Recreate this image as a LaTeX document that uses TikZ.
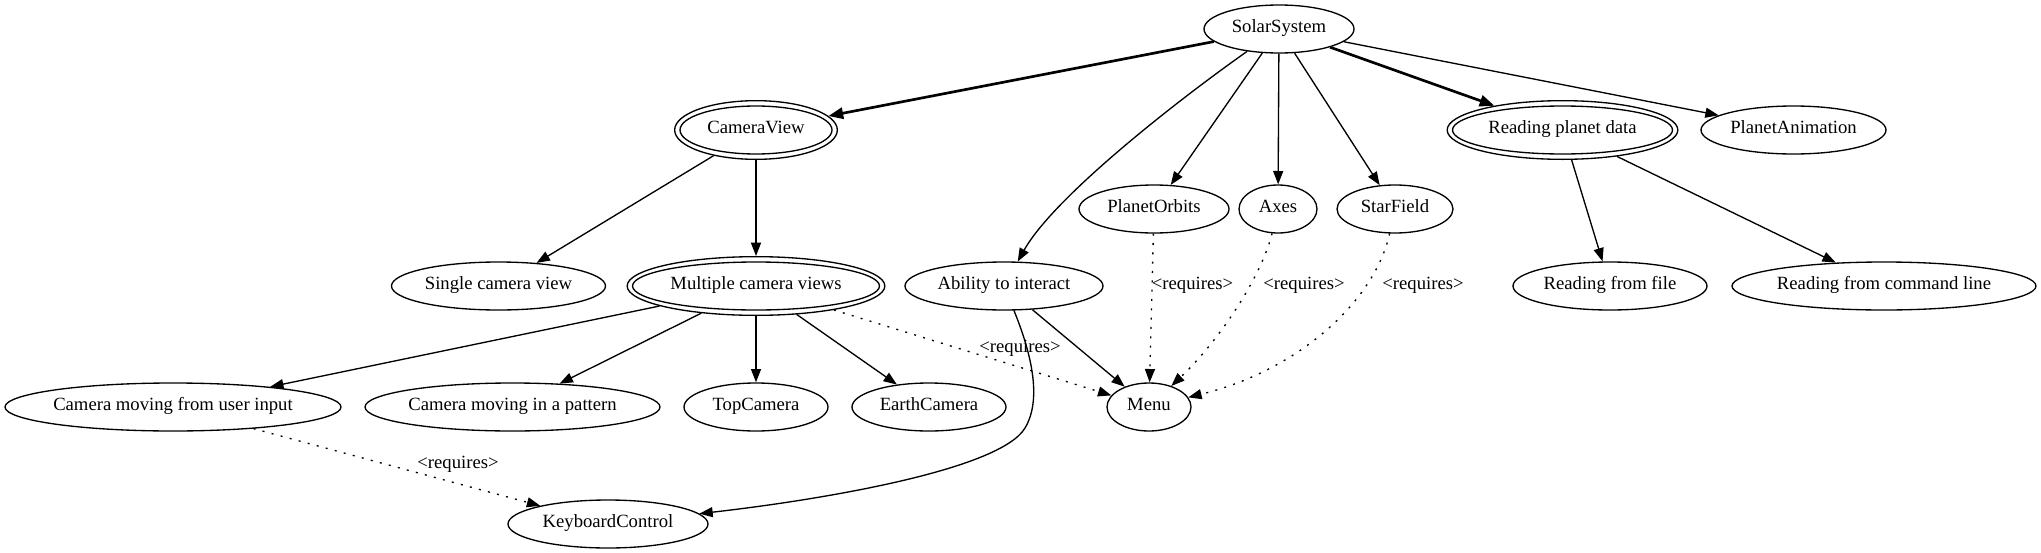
\documentclass[tikz,border=0pt]{standalone}
\usepackage{fontspec}
\setmainfont{Liberation Serif}
\usetikzlibrary{arrows.meta,shapes.geometric}
\newcommand\zw[1]{\makebox[0pt]{#1}}
\begin{document}
\begin{tikzpicture}[x=0.75pt,y=-0.75pt,
  nd/.style={draw, ellipse, line width=1pt, minimum height=36pt, inner sep=0pt,
             text height=9.5pt, text depth=4pt, font=\fontsize{14pt}{16pt}\selectfont},
  dbl/.style={nd, minimum height=44pt},
  ring/.style={line width=1pt},
  lbl/.style={inner sep=0pt, text height=9.5pt, text depth=4pt, font=\fontsize{14pt}{16pt}\selectfont},
  arr/.style={line width=1pt, -{Triangle[length=10pt,width=7.5pt]}},
  boldarr/.style={line width=2pt, -{Triangle[length=11pt,width=8.5pt]}},
  req/.style={arr, dash pattern=on 1.5pt off 5.5pt},
]
\useasboundingbox (0,0) rectangle (2041,553);

% nodes
\node[nd, minimum width=112.5pt] (solar) at (1279,29) {\zw{SolarSystem}};
\node[dbl, minimum width=122pt] (cv) at (756,130) {\zw{CameraView}};
\draw[ring] (cv.center) ellipse [x radius=57pt, y radius=18pt];
\node[dbl, minimum width=173pt] (rpd) at (1562.5,130) {\zw{Reading planet data}};
\draw[ring] (rpd.center) ellipse [x radius=82.5pt, y radius=18pt];
\node[nd, minimum width=138.75pt] (pa) at (1793.5,130) {\zw{PlanetAnimation}};
\node[nd, minimum width=112.5pt] (po) at (1154,209) {\zw{PlanetOrbits}};
\node[nd, minimum width=58.5pt] (axes) at (1278,209) {\zw{Axes}};
\node[nd, minimum width=87pt] (sf) at (1395,209) {\zw{StarField}};
\node[nd, minimum width=160.5pt] (scv) at (498.5,286) {\zw{Single camera view}};
\node[dbl, minimum width=193.25pt] (mcv) at (756,286) {\zw{Multiple camera views}};
\draw[ring] (mcv.center) ellipse [x radius=92.6pt, y radius=18pt];
\node[nd, minimum width=148.5pt] (ati) at (1004,286) {\zw{Ability to interact}};
\node[nd, minimum width=145.5pt] (rff) at (1610,286) {\zw{Reading from file}};
\node[nd, minimum width=228pt] (rfcl) at (1884,286) {\zw{Reading from command line}};
\node[nd, minimum width=252pt] (cmui) at (173,407) {\zw{Camera moving from user input}};
\node[nd, minimum width=221.25pt] (cmip) at (512.5,407) {\zw{Camera moving in a pattern}};
\node[nd, minimum width=108pt] (topc) at (756,407) {\zw{TopCamera}};
\node[nd, minimum width=115.5pt] (earthc) at (929,407) {\zw{EarthCamera}};
\node[nd, minimum width=63pt] (menu) at (1149,407) {\zw{Menu}};
\node[nd, minimum width=150pt] (kbd) at (608,524) {\zw{KeyboardControl}};

% edges
\draw[boldarr] (solar) -- (cv);
\draw[boldarr] (solar) -- (rpd);
\draw[arr] (solar) .. controls (1185,95) and (1055,195) .. (ati);
\draw[arr] (solar) -- (po);
\draw[arr] (solar) -- (axes);
\draw[arr] (solar) -- (sf);
\draw[arr] (solar) -- (pa);
\draw[arr] (cv) -- (scv);
\draw[arr] (cv) -- (mcv);
\draw[arr] (rpd) -- (rff);
\draw[arr] (rpd) -- (rfcl);
\draw[arr] (mcv) -- (cmui);
\draw[arr] (mcv) -- (cmip);
\draw[arr] (mcv) -- (topc);
\draw[arr] (mcv) -- (earthc);
\draw[req] (mcv) -- (menu);
\draw[arr] (ati) -- (menu);
\draw[arr] (ati) .. controls (1030,350) and (1043,398) .. (1025,428)
               .. controls (1000,470) and (820,500) .. (kbd);
\draw[req] (po) -- (menu);
\draw[req] (axes) .. controls (1262,275) and (1220,340) .. (menu);
\draw[req] (sf) .. controls (1375,300) and (1300,370) .. (menu);
\draw[req] (cmui) -- (kbd);

% edge labels
\node[lbl] (l1) at (1020,349) {<requires>};
\node[lbl] (l2) at (1192.5,286) {<requires>};
\node[lbl] (l3) at (1304,286) {<requires>};
\node[lbl] (l4) at (1423,286) {<requires>};
\node[lbl] (l5) at (458,465) {<requires>};
\end{tikzpicture}
\end{document}
